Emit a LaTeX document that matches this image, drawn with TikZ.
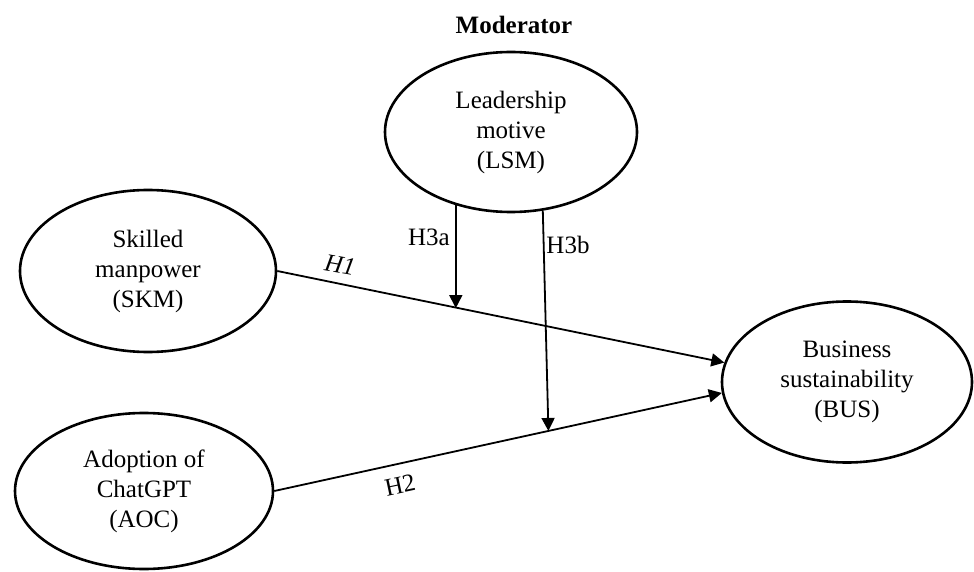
\documentclass[tikz,border=0pt]{standalone}
\usepackage{fontspec}
\setmainfont{Liberation Serif}
\usetikzlibrary{arrows.meta,calc,shapes.geometric}
\begin{document}
\begin{tikzpicture}[x=0.5pt,y=-0.5pt,
  construct/.style={draw,ellipse,line width=1.3pt,inner sep=0pt,align=center,
    font=\fontsize{12.5}{15}\selectfont},
  path/.style={line width=0.9pt,-{Triangle[length=6.5pt,width=6.5pt]}},
  lbl/.style={font=\fontsize{12.5}{15}\selectfont,inner sep=0pt}]
\useasboundingbox (0,0) rectangle (974,572);
\node[construct,minimum width=128pt,minimum height=81pt] (skm) at (148,271) {Skilled\\manpower\\(SKM)};
\node[construct,minimum width=129pt,minimum height=78pt] (aoc) at (144,491) {Adoption of\\ChatGPT\\(AOC)};
\node[construct,minimum width=126pt,minimum height=80pt] (lsm) at (511,132) {Leadership\\motive\\(LSM)};
\node[construct,minimum width=125pt,minimum height=80.5pt] (bus) at (847,382) {Business\\sustainability\\(BUS)};
\node[lbl,font=\fontsize{12.5}{15}\selectfont\bfseries] (mod) at (514,25) {Moderator};
\coordinate (h1s) at (skm.east);
\coordinate (h1e) at (bus.171);
\coordinate (h2s) at (aoc.east);
\coordinate (h2e) at (bus.185);
\coordinate (h3ae) at ($(h1s)!0.405!(h1e)$);
\coordinate (h3be) at ($(h2s)!0.6125!(h2e)$);
\draw[path] (h1s) -- (h1e);
\draw[path] (h2s) -- (h2e);
\draw[path] (lsm.233) -- (lsm.233 |- h3ae);
\draw[path] (lsm.292) -- (h3be);
\node[lbl,rotate=-10] (l1) at (340,265) {\itshape H1};
\node[lbl,rotate=12] (l2) at (400,485) {H2};
\node[lbl] (l3a) at (429,237) {H3a};
\node[lbl] (l3b) at (568,245) {H3b};
\end{tikzpicture}
\end{document}
